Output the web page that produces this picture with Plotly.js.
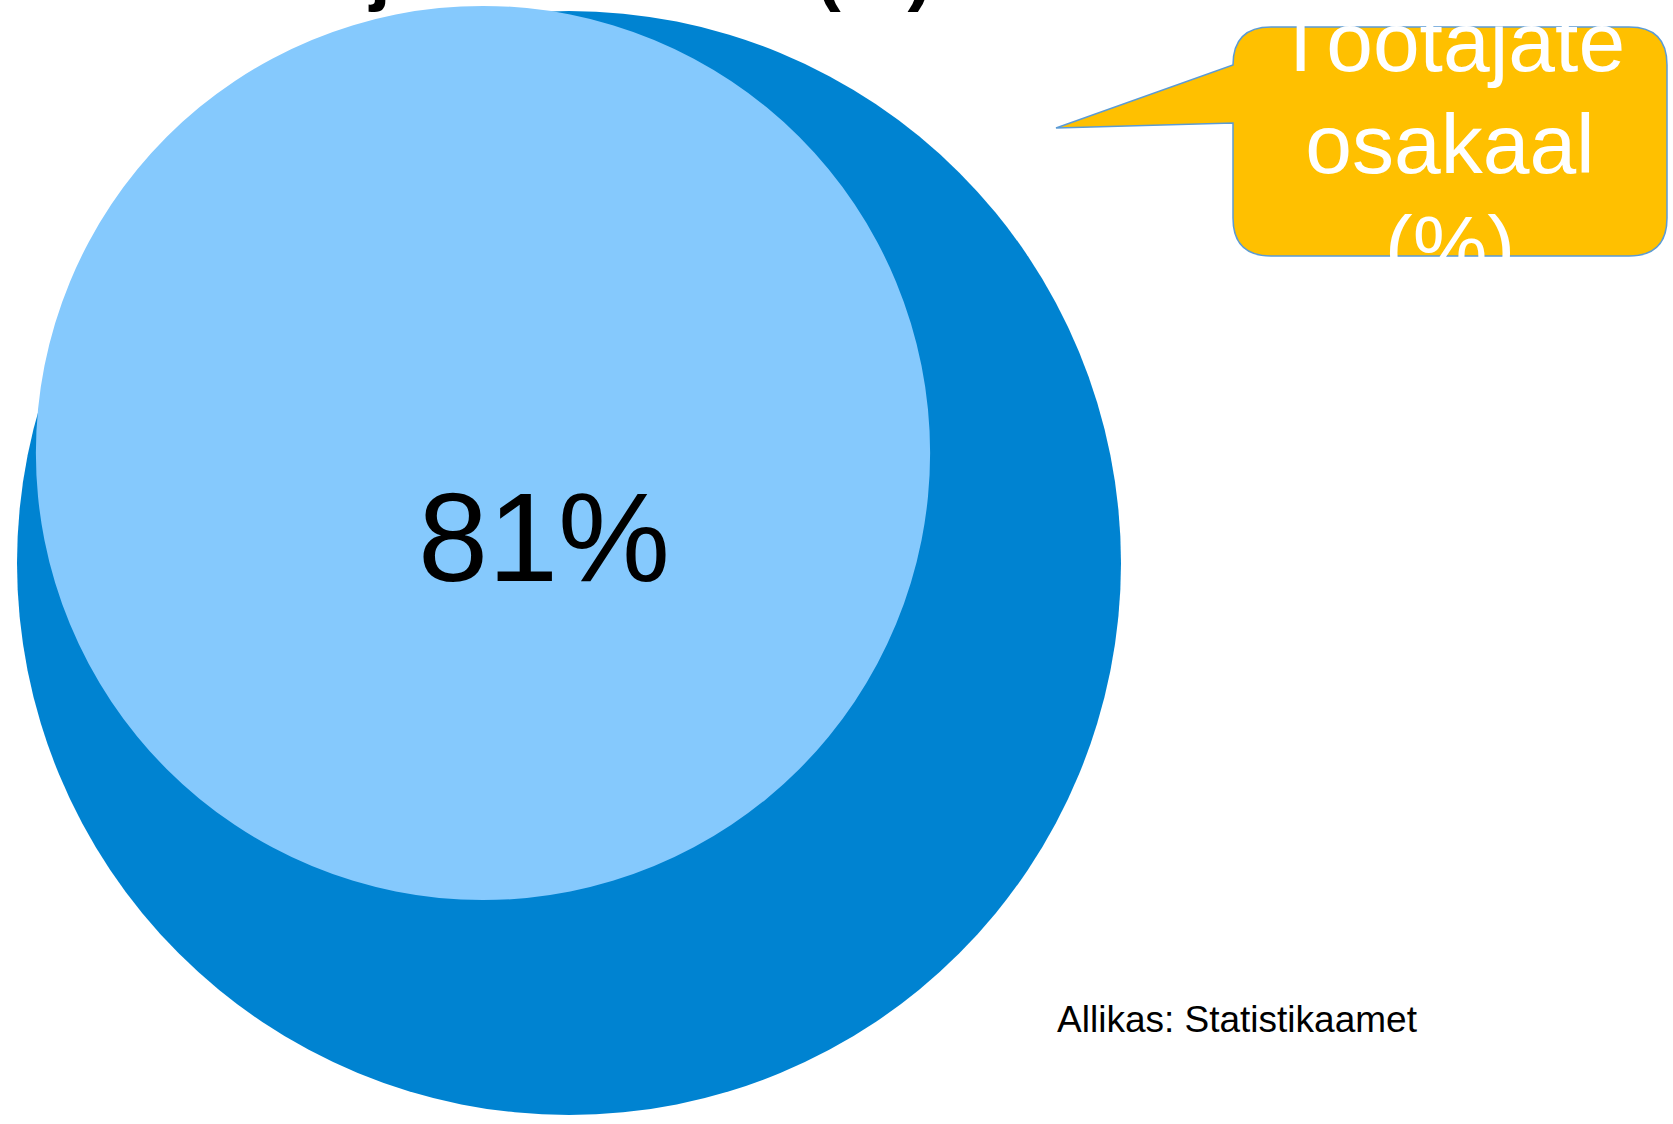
<!DOCTYPE html>
<html><head><meta charset="utf-8">
<script src="https://cdn.plot.ly/plotly-3.0.1.min.js"></script>
<style>html,body{margin:0;padding:0;background:#fff;overflow:hidden}#chart{width:1673px;height:1124px}</style>
</head><body><div id="chart"></div>
<script>
// ---- data ----
const titleText = "Töötajate osakaal (%)";
const shareValues = [100, 81];           // whole, employees share (%)
const calloutLines = ["Töötajate", "osakaal", "(%)"];
const sourceText = "Allikas: Statistikaamet";

// ---- layout constants ----
const W = 1673, H = 1124;
const RADIUS_PER_PCT = 5.52;
const OUTER_CENTER = [569, 563];
const INNER_CENTER = [483, 453];
const FONT = "Liberation Sans, Arial, Helvetica, sans-serif";
const CAP = 0.25; // baseline shift of plotly 'middle' text, in em

function circle(c, r, color) {
  return {type: "circle", xref: "x", yref: "y", layer: "below",
    x0: c[0] - r, x1: c[0] + r, y0: c[1] - r, y1: c[1] + r,
    fillcolor: color, line: {width: 0}};
}

const rOuter = shareValues[0] * RADIUS_PER_PCT;
const rInner = shareValues[1] * RADIUS_PER_PCT;

// callout geometry
const L = 1233, R = 1667, T = 27, B = 256, rr = 38;
const tip = [1056, 128], baseTop = 65, baseBot = 123;
const calloutPath =
  `M ${L+rr},${T} L ${R-rr},${T} Q ${R},${T} ${R},${T+rr} L ${R},${B-rr} Q ${R},${B} ${R-rr},${B} ` +
  `L ${L+rr},${B} Q ${L},${B} ${L},${B-rr} L ${L},${baseBot} L ${tip[0]},${tip[1]} L ${L},${baseTop} ` +
  `L ${L},${T+rr} Q ${L},${T} ${L+rr},${T} Z`;

const calloutFont = 84, calloutFirstBase = 71, calloutGap = 102, calloutCx = (L + R) / 2;
const titleFont = 75, titleBase = -3, titleCx = 549;
const labelFont = 126, labelBase = 581, labelCx = 544;
const srcFont = 37, srcBase = 1032, srcCx = 1237;

const traces = [
  {
    type: "scatter", mode: "text", hoverinfo: "skip", showlegend: false,
    x: [titleCx], y: [titleBase - CAP * titleFont], text: ["<b>" + titleText + "</b>"],
    textposition: "middle center", textfont: {family: FONT, size: titleFont, color: "#000"}
  },
  {
    type: "scatter", mode: "text", hoverinfo: "skip", showlegend: false,
    x: [labelCx], y: [labelBase - CAP * labelFont], text: [shareValues[1] + "%"],
    textposition: "middle center", textfont: {family: FONT, size: labelFont, color: "#000"}
  },
  {
    type: "scatter", mode: "text", hoverinfo: "skip", showlegend: false,
    x: calloutLines.map(() => calloutCx),
    y: calloutLines.map((_, i) => calloutFirstBase + i * calloutGap - CAP * calloutFont),
    text: calloutLines,
    textposition: "middle center", textfont: {family: FONT, size: calloutFont, color: "#fff"}
  },
  {
    type: "scatter", mode: "text", hoverinfo: "skip", showlegend: false,
    x: [srcCx], y: [srcBase - CAP * srcFont], text: [sourceText],
    textposition: "middle center", textfont: {family: FONT, size: srcFont, color: "#000"}
  }
];

const layout = {
  width: W, height: H,
  margin: {l: 0, r: 0, t: 0, b: 0, pad: 0},
  paper_bgcolor: "#fff", plot_bgcolor: "#fff",
  showlegend: false,
  xaxis: {range: [0, W], visible: false, showgrid: false, zeroline: false, fixedrange: true},
  yaxis: {range: [H, 0], visible: false, showgrid: false, zeroline: false, fixedrange: true},
  shapes: [
    circle(OUTER_CENTER, rOuter, "#0083D1"),
    circle(INNER_CENTER, rInner, "#85C9FD"),
    {type: "path", xref: "x", yref: "y", layer: "below", path: calloutPath,
      fillcolor: "#FFC000", line: {color: "#5B9BD5", width: 1.5}},
    // clip callout text to its box
    {type: "rect", xref: "x", yref: "y", layer: "above", x0: 1150, x1: W + 10, y0: -200, y1: T - 1,
      fillcolor: "#fff", line: {width: 0}},
    {type: "rect", xref: "x", yref: "y", layer: "above", x0: 1150, x1: W + 10, y0: B + 1, y1: 380,
      fillcolor: "#fff", line: {width: 0}}
  ]
};

Plotly.newPlot("chart", traces, layout, {displayModeBar: false, staticPlot: true});
</script>
</body></html>
